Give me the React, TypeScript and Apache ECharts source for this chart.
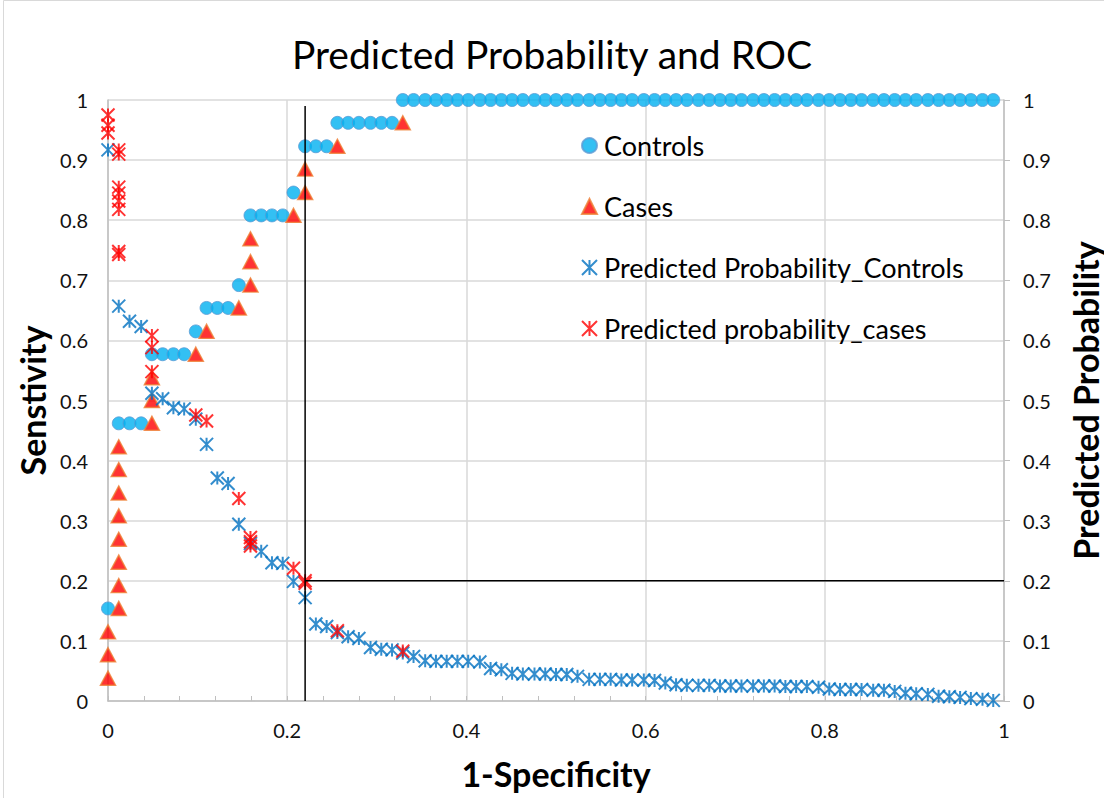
import React, { useEffect, useRef } from 'react';
import * as echarts from 'echarts';

// 1-Specificity for each control (step 1/82)
const controlsX = [
  0, 0.012, 0.024, 0.037, 0.049, 0.061, 0.073, 0.085, 0.098, 0.110,
  0.122, 0.134, 0.146, 0.159, 0.171, 0.183, 0.195, 0.207, 0.220, 0.232,
  0.244, 0.256, 0.268, 0.280, 0.293, 0.305, 0.317, 0.329, 0.341, 0.354,
  0.366, 0.378, 0.390, 0.402, 0.415, 0.427, 0.439, 0.451, 0.463, 0.476,
  0.488, 0.500, 0.512, 0.524, 0.537, 0.549, 0.561, 0.573, 0.585, 0.598,
  0.610, 0.622, 0.634, 0.646, 0.659, 0.671, 0.683, 0.695, 0.707, 0.720,
  0.732, 0.744, 0.756, 0.768, 0.780, 0.793, 0.805, 0.817, 0.829, 0.841,
  0.854, 0.866, 0.878, 0.890, 0.902, 0.915, 0.927, 0.939, 0.951, 0.963,
  0.976, 0.988,
];
// Sensitivity at each control
const controlsSens = [
  0.154, 0.462, 0.462, 0.462, 0.577, 0.577, 0.577, 0.577, 0.615, 0.654,
  0.654, 0.654, 0.692, 0.808, 0.808, 0.808, 0.808, 0.846, 0.923, 0.923,
  0.923, 0.962, 0.962, 0.962, 0.962, 0.962, 0.962, 1, 1, 1,
  1, 1, 1, 1, 1, 1, 1, 1, 1, 1,
  1, 1, 1, 1, 1, 1, 1, 1, 1, 1,
  1, 1, 1, 1, 1, 1, 1, 1, 1, 1,
  1, 1, 1, 1, 1, 1, 1, 1, 1, 1,
  1, 1, 1, 1, 1, 1, 1, 1, 1, 1,
  1, 1,
];
// Predicted probability of each control
const controlsProb = [
  0.917, 0.657, 0.632, 0.623, 0.512, 0.503, 0.488, 0.486, 0.469, 0.427,
  0.371, 0.362, 0.294, 0.262, 0.249, 0.230, 0.229, 0.199, 0.172, 0.128,
  0.124, 0.114, 0.107, 0.104, 0.089, 0.086, 0.085, 0.080, 0.074, 0.067,
  0.066, 0.066, 0.066, 0.066, 0.065, 0.054, 0.052, 0.046, 0.045, 0.045,
  0.045, 0.044, 0.044, 0.041, 0.036, 0.036, 0.036, 0.035, 0.035, 0.035,
  0.034, 0.030, 0.027, 0.026, 0.026, 0.026, 0.025, 0.025, 0.025, 0.025,
  0.025, 0.025, 0.024, 0.024, 0.024, 0.023, 0.020, 0.019, 0.019, 0.019,
  0.018, 0.018, 0.016, 0.013, 0.012, 0.011, 0.008, 0.007, 0.006, 0.004,
  0.003, 0.001,
];
// 1-Specificity for each case
const casesX = [
  0, 0, 0, 0.012, 0.012, 0.012, 0.012, 0.012, 0.012, 0.012,
  0.012, 0.049, 0.049, 0.049, 0.098, 0.110, 0.146, 0.159, 0.159, 0.159,
  0.207, 0.220, 0.220, 0.256, 0.329,
];
// Sensitivity at each case
const casesSens = [
  0.038, 0.077, 0.115, 0.154, 0.192, 0.231, 0.269, 0.308, 0.346, 0.385,
  0.423, 0.462, 0.500, 0.538, 0.577, 0.615, 0.654, 0.692, 0.731, 0.769,
  0.808, 0.846, 0.885, 0.923, 0.962,
];
// Predicted probability of each case
const casesProb = [
  0.975, 0.958, 0.945, 0.917, 0.910, 0.855, 0.845, 0.832, 0.818, 0.748,
  0.743, 0.608, 0.588, 0.548, 0.476, 0.466, 0.337, 0.272, 0.265, 0.258,
  0.221, 0.200, 0.196, 0.117, 0.083,
];
// Cut-off guide lines
const cutoffX = 0.22;
const cutoffY = 0.2;
const cutoffTop = 0.99;
const axisMax = 1;

const FONT = 'Lato';
const STAR = 'path://M0,0L10,10M10,0L0,10M5,0L5,10';

export default function App() {
  const ref = useRef<HTMLDivElement>(null);
  useEffect(() => {
    const chart = echarts.init(ref.current!, null, { renderer: 'svg' });
    const zip = (xs: number[], ys: number[]) => xs.map((x, i) => [x, ys[i]]);
    const axisTitle = { fontFamily: FONT, fontSize: 34, fontWeight: 'bold', color: '#000' };
    const tickLabel = { fontFamily: FONT, fontSize: 20, color: '#111' };
    const option: any = {
      animation: false,
      backgroundColor: '#fff',
      textStyle: { fontFamily: FONT },
      title: {
        text: 'Predicted Probability and ROC',
        left: 'center',
        top: 29,
        textStyle: { fontFamily: FONT, fontSize: 39, fontWeight: 'normal', color: '#000' },
      },
      graphic: [
        {
          type: 'rect',
          shape: { x: 3.5, y: 0.5, width: 1120, height: 820 },
          style: { fill: 'none', stroke: '#d9d9d9', lineWidth: 1 },
          silent: true,
        },
      ],
      legend: {
        orient: 'vertical',
        left: 576,
        top: 127,
        itemGap: 34,
        itemWidth: 15,
        itemHeight: 15,
        textStyle: { fontFamily: FONT, fontSize: 27, color: '#000', padding: [0, 0, 0, 2] },
        data: ['Controls', 'Cases', 'Predicted Probability_Controls', 'Predicted probability_cases'],
      },
      grid: { left: 108, right: 100, top: 100, bottom: 97, outerBoundsMode: 'none', containLabel: false },
      xAxis: {
        type: 'value',
        min: 0,
        max: axisMax,
        interval: 0.2,
        name: '1-Specificity',
        nameLocation: 'middle',
        nameGap: 55,
        nameTextStyle: axisTitle,
        axisLine: { show: true, lineStyle: { color: '#bfbfbf', width: 1.5 } },
        axisTick: { show: true, inside: true, length: 5, lineStyle: { color: '#bfbfbf' } },
        minorTick: { show: true, splitNumber: 5, length: 5, lineStyle: { color: '#bfbfbf' } },
        axisLabel: { ...tickLabel, margin: 19 },
        splitLine: { show: true, lineStyle: { color: '#d9d9d9', width: 1.5 } },
      },
      yAxis: [
        {
          type: 'value',
          min: 0,
          max: axisMax,
          interval: 0.1,
          name: 'Senstivity',
          nameLocation: 'middle',
          nameGap: 53,
          nameRotate: 90,
          nameTextStyle: axisTitle,
          axisLine: { show: true, lineStyle: { color: '#bfbfbf', width: 1.5 } },
          axisTick: { show: false },
          axisLabel: { ...tickLabel, margin: 20 },
          splitLine: { show: true, lineStyle: { color: '#d9d9d9', width: 1.5 } },
        },
        {
          type: 'value',
          min: 0,
          max: axisMax,
          interval: 0.1,
          position: 'right',
          name: 'Predicted Probability',
          nameLocation: 'middle',
          nameGap: 64,
          nameRotate: 90,
          nameTextStyle: axisTitle,
          axisLine: { show: true, lineStyle: { color: '#bfbfbf', width: 1.5 } },
          axisTick: { show: true, inside: false, length: 6, lineStyle: { color: '#bfbfbf' } },
          axisLabel: { ...tickLabel, margin: 19 },
          splitLine: { show: false },
        },
      ],
      series: [
        {
          name: 'Controls',
          type: 'scatter',
          yAxisIndex: 0,
          symbol: 'circle',
          symbolSize: 13,
          itemStyle: { color: '#00B0F0', borderColor: '#5B9BD5', borderWidth: 1 },
          data: zip(controlsX, controlsSens),
          z: 2,
        },
        {
          name: 'Cases',
          type: 'scatter',
          yAxisIndex: 0,
          symbol: 'triangle',
          symbolSize: [15, 14],
          itemStyle: { color: '#FF0000', borderColor: '#ED7D31', borderWidth: 1.5 },
          data: zip(casesX, casesSens),
          z: 3,
        },
        {
          name: 'Predicted Probability_Controls',
          type: 'scatter',
          yAxisIndex: 1,
          symbol: STAR,
          symbolSize: 13,
          itemStyle: { color: '#0070C0', borderColor: '#0070C0', borderWidth: 2 },
          data: zip(controlsX, controlsProb),
          z: 4,
        },
        {
          name: 'Predicted probability_cases',
          type: 'scatter',
          yAxisIndex: 1,
          symbol: STAR,
          symbolSize: 13,
          itemStyle: { color: '#FF0000', borderColor: '#FF0000', borderWidth: 2 },
          data: zip(casesX, casesProb),
          z: 5,
        },
        {
          name: 'cutoffV',
          type: 'line',
          yAxisIndex: 0,
          symbol: 'none',
          lineStyle: { color: '#000', width: 1.5 },
          data: [[cutoffX, 0], [cutoffX, cutoffTop]],
          z: 6,
          silent: true,
        },
        {
          name: 'cutoffH',
          type: 'line',
          yAxisIndex: 0,
          symbol: 'none',
          lineStyle: { color: '#000', width: 1.5 },
          data: [[cutoffX, cutoffY], [axisMax, cutoffY]],
          z: 6,
          silent: true,
        },
      ],
    };
    chart.setOption(option);
    return () => chart.dispose();
  }, []);
  return (
    <div
      ref={ref}
      style={{ position: 'absolute', left: 0, top: 0, width: 1104, height: 798, background: '#fff' }}
    />
  );
}
